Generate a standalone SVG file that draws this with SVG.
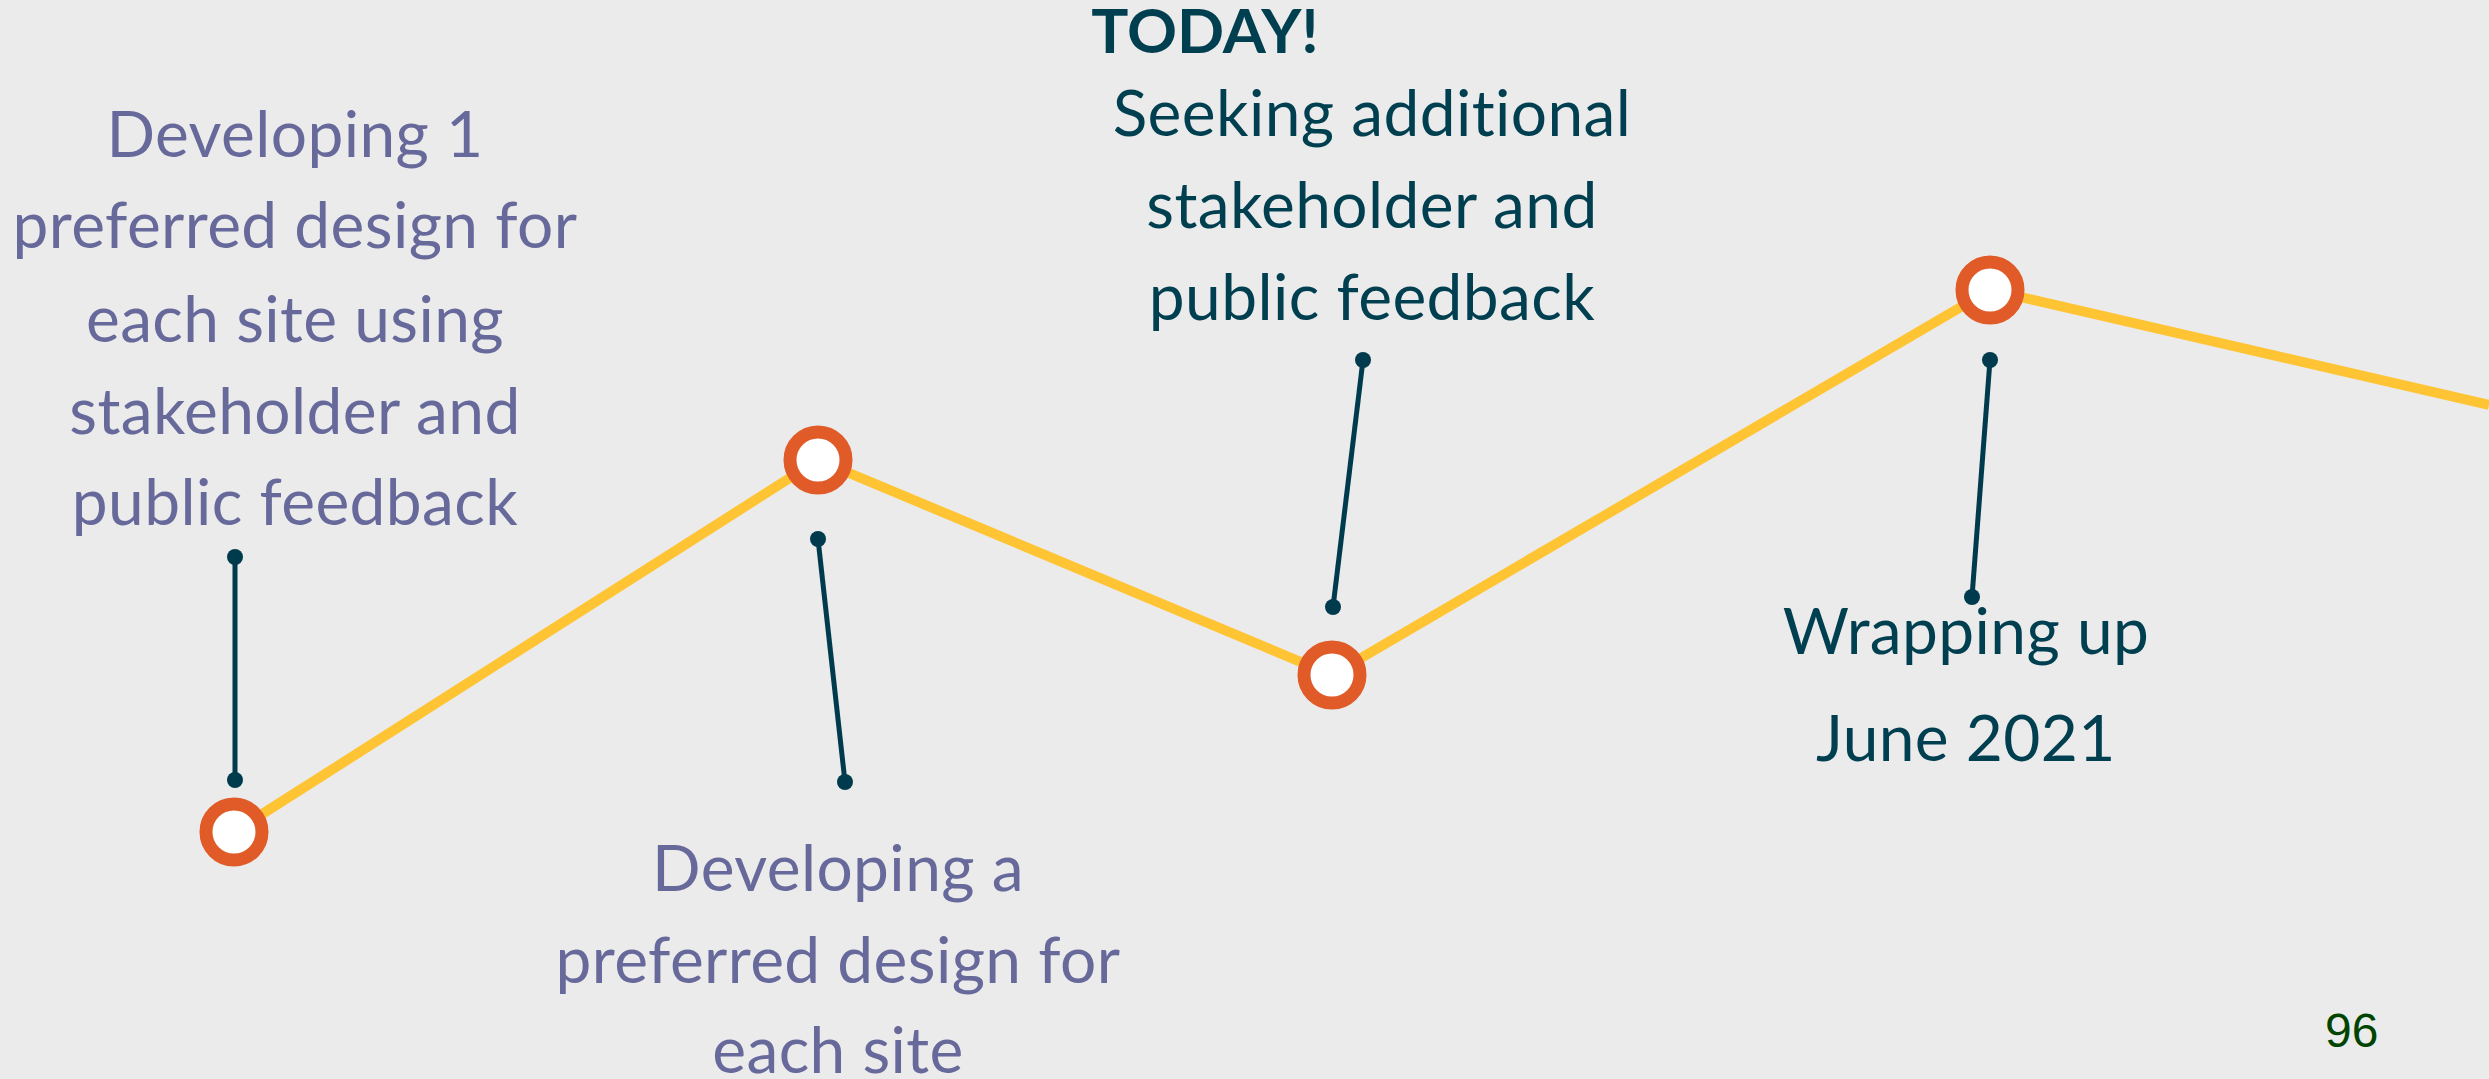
<svg xmlns="http://www.w3.org/2000/svg" width="2489" height="1079" viewBox="0 0 2489 1079">
<style>
.bg{fill:#EBEBEB}
.track{fill:none;stroke:#FFC433;stroke-width:10;stroke-linejoin:miter}
.ms{fill:#FFFFFF;stroke:#E15B29;stroke-width:13}
.lead{stroke:#003B4D;stroke-width:5;fill:none}
.dot{fill:#003B4D}
.t{font-family:Lato,"Noto Sans",sans-serif;font-size:64px;letter-spacing:0.4px;text-anchor:middle}
.p{fill:#67699B}
.d{fill:#003F50}
.b{font-weight:bold;font-size:62px;letter-spacing:0}
.pg{font-family:"Liberation Sans",Arial,sans-serif;font-size:48px;fill:#004400}
</style>
<rect class="bg" x="0" y="0" width="2489" height="1079"/>
<g id="connectors">
<polyline class="track" points="234,832 818,460 1332,675 1990,290 2489,405"/>
<line class="lead" x1="235" y1="557" x2="235" y2="780"/>
<circle class="dot" cx="235" cy="557" r="8"/><circle class="dot" cx="235" cy="780" r="8"/>
<line class="lead" x1="818" y1="539" x2="845" y2="782"/>
<circle class="dot" cx="818" cy="539" r="8"/><circle class="dot" cx="845" cy="782" r="8"/>
<line class="lead" x1="1363" y1="360" x2="1333" y2="607"/>
<circle class="dot" cx="1363" cy="360" r="8"/><circle class="dot" cx="1333" cy="607" r="8"/>
<line class="lead" x1="1990" y1="360" x2="1972" y2="597"/>
<circle class="dot" cx="1990" cy="360" r="8"/><circle class="dot" cx="1972" cy="597" r="8"/>
</g>
<g id="milestone1"><circle class="ms" cx="234" cy="832" r="28"/></g>
<g id="milestone2"><circle class="ms" cx="818" cy="460" r="28"/></g>
<g id="milestone3"><circle class="ms" cx="1332" cy="675" r="28"/></g>
<g id="milestone4"><circle class="ms" cx="1990" cy="290" r="28"/></g>
<g id="label1">
<text class="t p" x="295" y="157">Developing 1</text>
<text class="t p" x="295" y="248">preferred design for</text>
<text class="t p" x="295" y="342">each site using</text>
<text class="t p" x="295" y="434">stakeholder and</text>
<text class="t p" x="295" y="525">public feedback</text>
</g>
<g id="label2">
<text class="t p" x="838" y="891">Developing a</text>
<text class="t p" x="838" y="983">preferred design for</text>
<text class="t p" x="838" y="1073">each site</text>
</g>
<g id="label3">
<text class="t d b" x="1205" y="53">TODAY!</text>
<text class="t d" x="1372" y="136">Seeking additional</text>
<text class="t d" x="1372" y="228">stakeholder and</text>
<text class="t d" x="1372" y="320">public feedback</text>
</g>
<g id="label4">
<text class="t d" x="1966" y="654">Wrapping up</text>
<text class="t d" x="1966" y="761">June 2021</text>
</g>
<text class="pg" x="2325" y="1047">96</text>
</svg>
